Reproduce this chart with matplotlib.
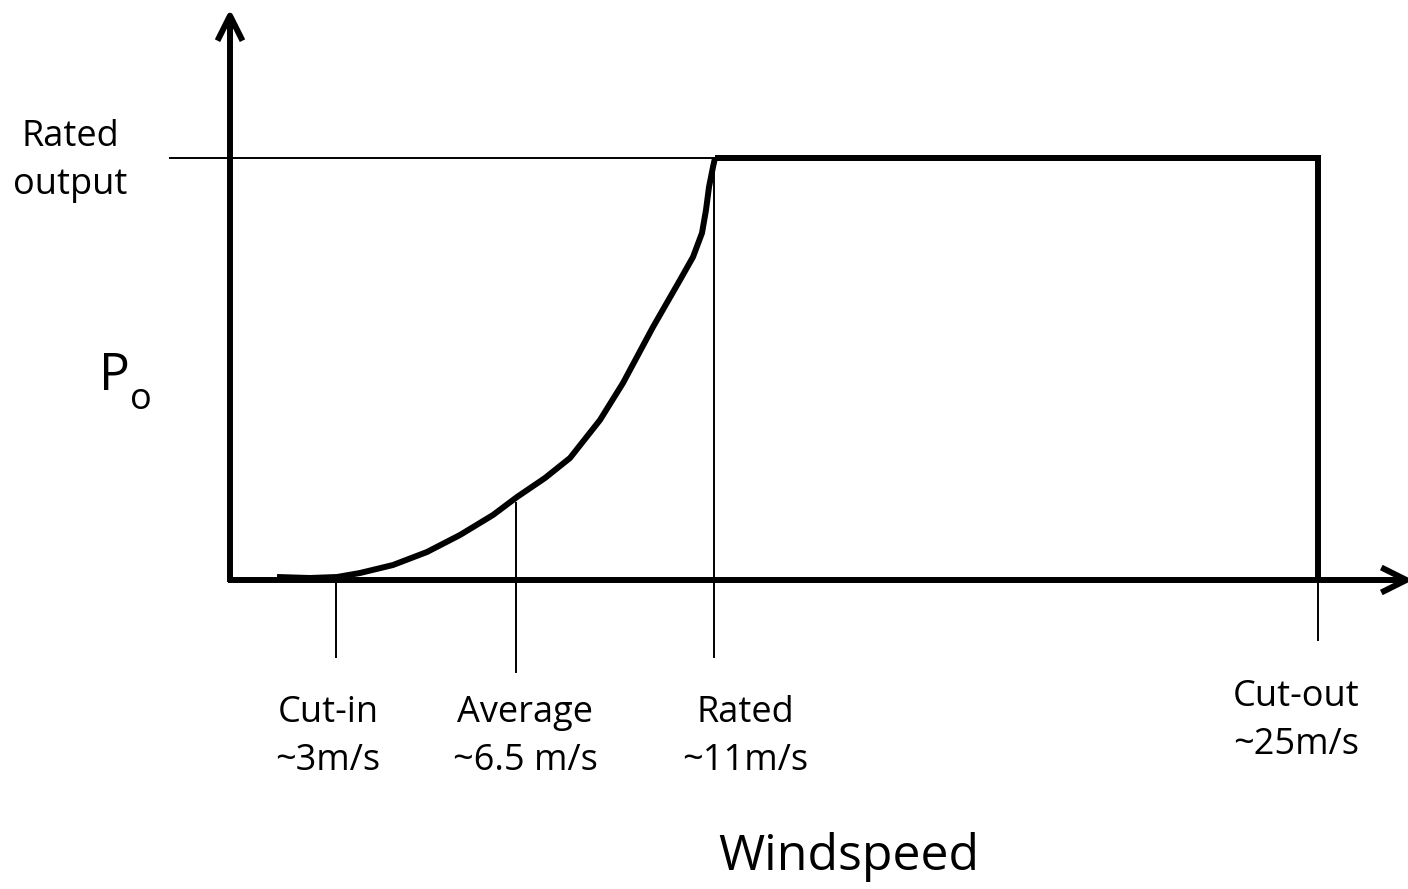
import matplotlib.pyplot as plt

plt.rcParams['font.family'] = ['Open Sans', 'DejaVu Sans']

# schematic coordinates (pixels, y grows downwards)
origin = (230, 580)
rated_y = 158
rated_x = 715
cutout_x = 1318

# power curve from cut-in up to rated speed
curve_x = [277, 310, 337, 360, 393, 427, 460, 493, 517, 545, 570, 600, 623, 653, 680, 693, 702, 706, 709, 713, 715]
curve_y = [577, 578, 577, 573, 565, 552, 535, 515, 497, 478, 458, 420, 383, 327, 280, 257, 233, 210, 187, 167, 158]

# marker lines under the axis: x, top, bottom
tick_x = [336, 516, 714, 1318]
tick_top = [580, 503, 158, 580]
tick_bottom = [657, 672, 657, 640]

labels = ['Cut-in\n~3m/s', 'Average\n~6.5 m/s', 'Rated\n~11m/s', 'Cut-out\n~25m/s']
label_x = [328, 525, 745, 1296]
label_y = [737, 737, 737, 721]

fig = plt.figure(figsize=(14.08, 8.89), dpi=100)
ax = fig.add_axes([0, 0, 1, 1])
ax.set_xlim(0, 1408)
ax.set_ylim(889, 0)
ax.axis('off')

thick = 4.3
thin = 1.4
arrow = '->,head_length=1.8,head_width=0.9'

# axes with arrowheads
ax.annotate('', xy=(origin[0], 9), xytext=(origin[0], origin[1] + 2), annotation_clip=False,
            arrowprops=dict(arrowstyle=arrow, lw=thick, color='black', shrinkA=0, shrinkB=0,
                            capstyle='butt'))
ax.annotate('', xy=(1413, origin[1]), xytext=(origin[0] - 2, origin[1]), annotation_clip=False,
            arrowprops=dict(arrowstyle=arrow, lw=thick, color='black', shrinkA=0, shrinkB=0,
                            capstyle='butt'))

# rated output guide line
ax.plot([170, rated_x], [rated_y, rated_y], color='black', lw=thin)

# power curve, flat section and cut-out drop
ax.plot(curve_x, curve_y, color='black', lw=thick, solid_joinstyle='round', solid_capstyle='butt')
ax.plot([rated_x, cutout_x, cutout_x], [rated_y, rated_y, origin[1]], color='black', lw=thick,
        solid_joinstyle='miter', solid_capstyle='butt')

for x, t, b in zip(tick_x, tick_top, tick_bottom):
    ax.plot([x, x], [t, b], color='black', lw=thin)

for s, x, y in zip(labels, label_x, label_y):
    ax.text(x, y, s, ha='center', va='center', fontsize=26, linespacing=1.45)

ax.text(70, 161, 'Rated\noutput', ha='center', va='center', fontsize=26, linespacing=1.45)
ax.text(114, 376, 'P', ha='center', va='center', fontsize=37)
ax.text(141, 400, 'o', ha='center', va='center', fontsize=26)
ax.text(849, 857, 'Windspeed', ha='center', va='center', fontsize=36)

fig.savefig('out.png', dpi=100)
